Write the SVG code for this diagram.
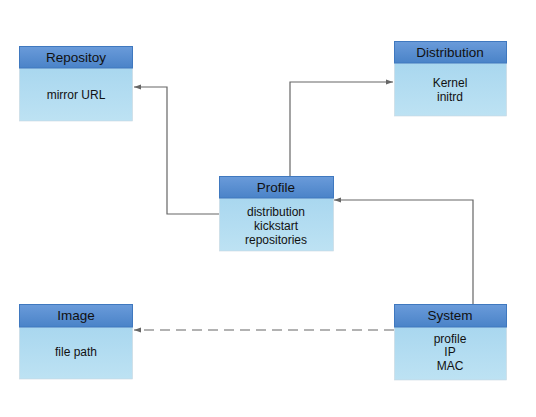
<svg xmlns="http://www.w3.org/2000/svg" width="536" height="417" viewBox="0 0 536 417">
<defs>
<linearGradient id="hd" x1="0" y1="0" x2="0" y2="1"><stop offset="0" stop-color="#6a9bda"/><stop offset="1" stop-color="#4a83c8"/></linearGradient>
<linearGradient id="bd" x1="0" y1="0" x2="0" y2="1"><stop offset="0" stop-color="#a9d7ef"/><stop offset="1" stop-color="#bde2f3"/></linearGradient>
<marker id="ar" markerWidth="8" markerHeight="8" refX="7" refY="4" orient="auto" markerUnits="userSpaceOnUse"><path d="M0,1.5 L7,4 L0,6.5 Z" fill="#666"/></marker>
<style>
.hd{fill:url(#hd);stroke:#3f78bf;stroke-width:1}
.bd{fill:url(#bd);stroke:#c8d8e0;stroke-width:0.6}
.t{font-family:"Liberation Sans",Arial,sans-serif;font-size:12px;fill:#111;text-anchor:middle}
.h{font-size:13.5px}
.c{fill:none;stroke:#666;stroke-width:1.2}
</style>
</defs>
<rect width="536" height="417" fill="#fff"/>
<g id="connectors">
<path class="c" d="M219,214 H167 V87 H134" marker-end="url(#ar)"/>
<path class="c" d="M290,176 V82 H393" marker-end="url(#ar)"/>
<path class="c" d="M473,304 V200 H334" marker-end="url(#ar)"/>
<path class="c" d="M394,330 H134" stroke-dasharray="10,6" marker-end="url(#ar)"/>
</g>
<g id="repositoy">
<rect class="bd" x="19.5" y="68" width="113" height="53"/>
<rect class="hd" x="19.5" y="46.5" width="113" height="21.5"/>
<text class="t h" x="76" y="62">Repositoy</text>
<text class="t" x="76" y="99">mirror URL</text>
</g>
<g id="distribution">
<rect class="bd" x="394.5" y="63" width="112" height="53"/>
<rect class="hd" x="394.5" y="41.5" width="112" height="21.5"/>
<text class="t h" x="450" y="57">Distribution</text>
<text class="t" x="450" y="87">Kernel</text>
<text class="t" x="450" y="101">initrd</text>
</g>
<g id="profile">
<rect class="bd" x="219.5" y="198" width="114" height="53"/>
<rect class="hd" x="219.5" y="176.5" width="114" height="21.5"/>
<text class="t h" x="276" y="192">Profile</text>
<text class="t" x="276" y="216">distribution</text>
<text class="t" x="276" y="230">kickstart</text>
<text class="t" x="276" y="244">repositories</text>
</g>
<g id="image">
<rect class="bd" x="19.5" y="327" width="113" height="52"/>
<rect class="hd" x="19.5" y="304.5" width="113" height="22.5"/>
<text class="t h" x="76" y="320">Image</text>
<text class="t" x="76" y="356">file path</text>
</g>
<g id="system">
<rect class="bd" x="394.5" y="327" width="112" height="53"/>
<rect class="hd" x="394.5" y="304.5" width="112" height="22.5"/>
<text class="t h" x="450" y="320">System</text>
<text class="t" x="450" y="343">profile</text>
<text class="t" x="450" y="356">IP</text>
<text class="t" x="450" y="370">MAC</text>
</g>
</svg>
